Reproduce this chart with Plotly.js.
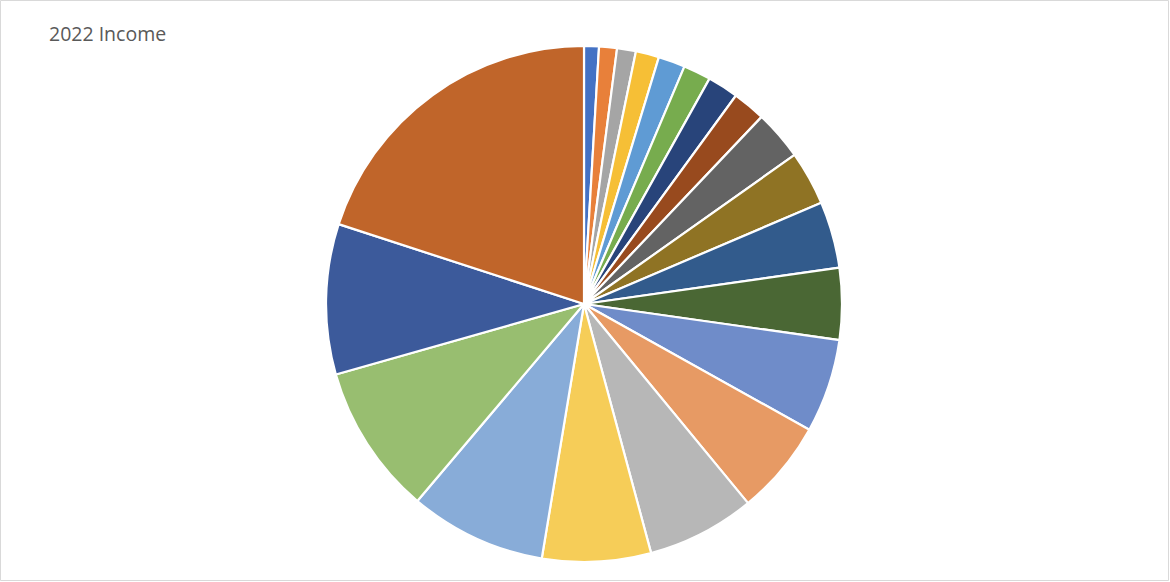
<!DOCTYPE html>
<html>
<head>
<meta charset="utf-8">
<script src="https://cdn.plot.ly/plotly-3.0.1.min.js"></script>
<style>html,body{margin:0;padding:0;background:#fff;}#chart{width:1170px;height:582px;}</style>
</head>
<body>
<div id="chart"></div>
<script>
const categories = ["Source 1","Source 2","Source 3","Source 4","Source 5","Source 6","Source 7","Source 8","Source 9","Source 10",
  "Source 11","Source 12","Source 13","Source 14","Source 15","Source 16","Source 17","Source 18","Source 19","Source 20"];
const values = [0.93, 1.12, 1.18, 1.46, 1.68, 1.72, 1.94, 2.06, 3.11, 3.39,
  4.17, 4.49, 5.86, 5.94, 6.78, 6.81, 8.56, 9.42, 9.42, 20.0];
const colors = ["#4472C4","#E8803A","#A5A5A5","#F6BF36","#5F9BD4","#77AC4E",
  "#28447A","#984A1E","#636363","#8F7324","#325B8C","#4A6734",
  "#6F8CC9","#E79A64","#B7B7B7","#F6CD58","#88ACD8","#98BE70",
  "#3C5A9B","#C0652A"];
const titleText = "2022 Income";

const W = 1170, H = 582;
const cx = 584, cy = 304, r = 258;

const trace = {
  type: "pie",
  labels: categories,
  values: values,
  sort: false,
  direction: "clockwise",
  rotation: 0,
  textinfo: "none",
  hoverinfo: "label+value+percent",
  marker: { colors: colors, line: { color: "#ffffff", width: 2.2 } },
  domain: { x: [(cx - r) / W, (cx + r) / W], y: [(H - cy - r) / H, (H - cy + r) / H] },
  showlegend: false
};

const layout = {
  width: W, height: H,
  margin: { l: 0, r: 0, t: 0, b: 0 },
  paper_bgcolor: "#ffffff",
  showlegend: false,
  title: {
    text: titleText,
    x: 49 / W, xanchor: "left", xref: "paper",
    y: 1 - 34 / H, yanchor: "middle", yref: "paper",
    font: { family: "Open Sans, Noto Sans, sans-serif", size: 19.5, color: "#595959" }
  },
  shapes: [{
    type: "rect", xref: "paper", yref: "paper",
    x0: 0.5 / W, x1: 1168.5 / W, y0: (H - 580.5) / H, y1: (H - 0.5) / H,
    line: { color: "#d9d9d9", width: 1 }, fillcolor: "rgba(0,0,0,0)"
  }]
};

Plotly.newPlot("chart", [trace], layout, { displayModeBar: false });
</script>
</body>
</html>
